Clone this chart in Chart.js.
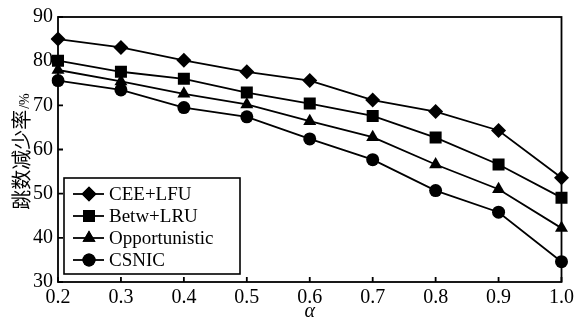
<!DOCTYPE html>
<html>
<head>
<meta charset="utf-8">
<script src="https://cdn.jsdelivr.net/npm/chart.js@4.4.0/dist/chart.umd.min.js"></script>
<style>
  html, body { margin: 0; padding: 0; background: #fff; }
  #wrap { width: 578px; height: 324px; }
</style>
</head>
<body>
<div id="wrap"><canvas id="chart"></canvas></div>
<script>
// alpha values on the x axis
const alphaLabels = ['0.2', '0.3', '0.4', '0.5', '0.6', '0.7', '0.8', '0.9', '1.0'];

// hop count reduction rate (%) per scheme
const ceeLfu        = [85.0, 83.1, 80.2, 77.6, 75.6, 71.2, 68.6, 64.3, 53.6];
const betwLru       = [80.1, 77.6, 76.0, 72.9, 70.4, 67.6, 62.7, 56.6, 49.1];
const opportunistic = [78.0, 75.4, 72.6, 70.2, 66.4, 62.8, 56.6, 51.0, 42.2];
const csnic         = [75.6, 73.5, 69.5, 67.4, 62.4, 57.7, 50.7, 45.8, 34.6];

const yTicks = { min: 30, max: 90, step: 10 };
const yTitle = '跳数减少率';
const yUnit = '/%';

const serif = '"Liberation Serif", "Times New Roman", serif';
const cjk = '"Noto Sans CJK SC", sans-serif';

function series(label, data, pointStyle, radius) {
  return {
    label,
    data,
    borderColor: '#000',
    backgroundColor: '#000',
    borderWidth: 1.8,
    pointStyle,
    pointRadius: radius,
    pointHoverRadius: radius,
    pointBorderWidth: 0,
    tension: 0,
  };
}

// frame, inward ticks, y title (mixed sizes) and the boxed legend
const frameAndLegend = {
  id: 'frameAndLegend',
  afterDatasetsDraw(chart) {
    const { ctx, chartArea: a, scales: { x, y } } = chart;
    ctx.save();
    ctx.strokeStyle = '#000';
    ctx.lineWidth = 1.8;
    ctx.strokeRect(a.left, a.top, a.right - a.left, a.bottom - a.top);

    ctx.beginPath();
    x.ticks.forEach((t, i) => {
      const px = x.getPixelForTick(i);
      ctx.moveTo(px, a.bottom);
      ctx.lineTo(px, a.bottom - 5);
    });
    y.ticks.forEach((t, i) => {
      const py = y.getPixelForTick(i);
      ctx.moveTo(a.left, py);
      ctx.lineTo(a.left + 5, py);
    });
    ctx.stroke();

    // rotated y title: CJK text plus a smaller unit
    ctx.save();
    ctx.fillStyle = '#000';
    ctx.textBaseline = 'alphabetic';
    ctx.textAlign = 'left';
    ctx.font = '20px ' + cjk;
    const w1 = ctx.measureText(yTitle).width;
    ctx.font = '14px ' + serif;
    const w2 = ctx.measureText(yUnit).width;
    ctx.translate(29, (a.top + a.bottom) / 2 + 2);
    ctx.rotate(-Math.PI / 2);
    const start = -(w1 + w2 + 1) / 2;
    ctx.font = '20px ' + cjk;
    ctx.fillText(yTitle, start, 0);
    ctx.font = '14px ' + serif;
    ctx.fillText(yUnit, start + w1 + 1, 0);
    ctx.restore();

    // legend box
    const bx = 64, by = 178, bw = 176, bh = 96;
    ctx.fillStyle = '#fff';
    ctx.fillRect(bx, by, bw, bh);
    ctx.lineWidth = 1.6;
    ctx.strokeRect(bx, by, bw, bh);

    ctx.font = '19px ' + serif;
    ctx.textBaseline = 'middle';
    ctx.textAlign = 'left';
    chart.data.datasets.forEach((ds, i) => {
      const cy = by + 16 + i * 22;
      ctx.strokeStyle = '#000';
      ctx.lineWidth = 1.8;
      ctx.beginPath();
      ctx.moveTo(73, cy);
      ctx.lineTo(104, cy);
      ctx.stroke();
      ctx.fillStyle = '#000';
      Chart.helpers.drawPoint(ctx, {
        pointStyle: ds.pointStyle,
        radius: ds.pointRadius,
        rotation: 0,
        borderWidth: 0,
      }, 89, cy);
      ctx.fill();
      ctx.fillText(ds.label, 109, cy + 1);
    });
    ctx.restore();
  }
};

new Chart(document.getElementById('chart'), {
  type: 'line',
  data: {
    labels: alphaLabels,
    datasets: [
      series('CEE+LFU', ceeLfu, 'rectRot', 7.5),
      series('Betw+LRU', betwLru, 'rect', 8.5),
      series('Opportunistic', opportunistic, 'triangle', 7.5),
      series('CSNIC', csnic, 'circle', 6.5),
    ],
  },
  options: {
    responsive: true,
    maintainAspectRatio: false,
    animation: false,
    layout: { padding: { top: 17, right: 11, left: 0, bottom: 0 } },
    plugins: {
      legend: { display: false },
      tooltip: { enabled: false },
    },
    scales: {
      x: {
        type: 'category',
        offset: false,
        grid: { display: false, drawTicks: false },
        border: { display: false },
        ticks: {
          color: '#000',
          font: { family: serif, size: 20 },
          padding: 4,
          maxRotation: 0,
        },
        title: {
          display: true,
          text: 'α',
          color: '#000',
          font: { family: serif, size: 20, style: 'italic' },
          padding: 0,
        },
        afterFit(scale) { scale.height = 42; },
      },
      y: {
        min: yTicks.min,
        max: yTicks.max,
        grid: { display: false, drawTicks: false },
        border: { display: false },
        ticks: {
          stepSize: yTicks.step,
          color: '#000',
          font: { family: serif, size: 20 },
          padding: 5,
        },
        afterFit(scale) { scale.width = 58; },
      },
    },
  },
  plugins: [frameAndLegend],
});
</script>
</body>
</html>
